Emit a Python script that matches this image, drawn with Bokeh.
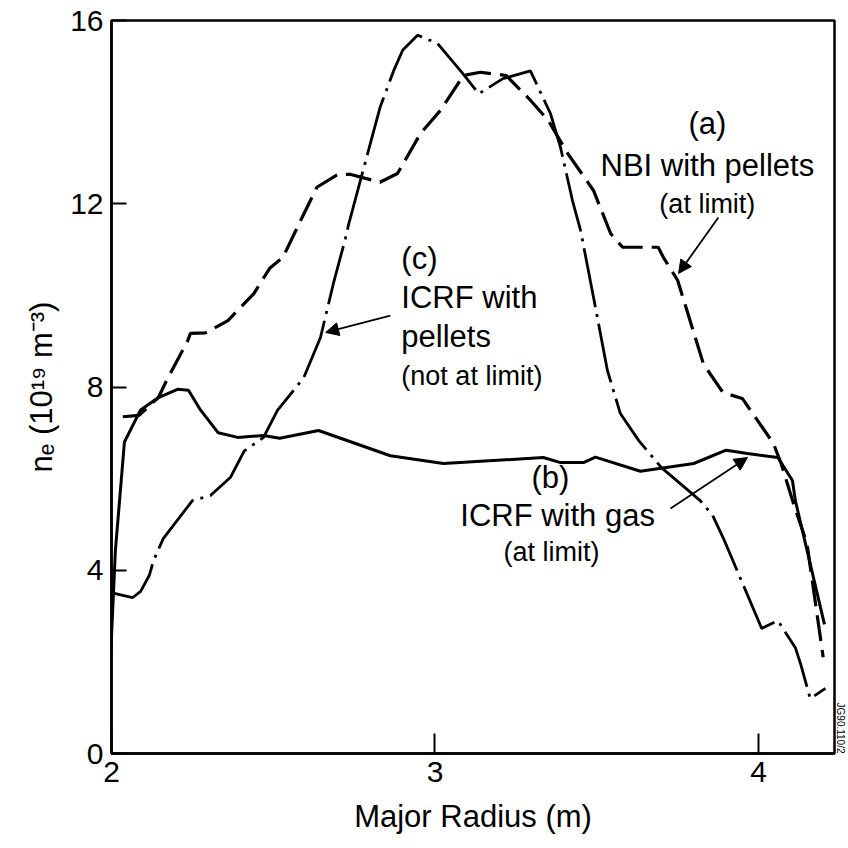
from bokeh.plotting import figure
from bokeh.models import Range1d, Label, Arrow, NormalHead, FixedTicker, Title
from bokeh.embed import file_html
from bokeh.resources import INLINE

FONT = "Liberation Sans"

# (a) NBI with pellets (at limit) - dashed
x_a = [2.035, 2.085, 2.145, 2.17, 2.235, 2.244, 2.29, 2.36, 2.44, 2.49, 2.53, 2.585, 2.635,
       2.70, 2.74, 2.83, 2.884, 2.955, 3.017, 3.088, 3.14, 3.22, 3.295, 3.35, 3.41, 3.49,
       3.543, 3.58, 3.69, 3.706, 3.75, 3.83, 3.89, 3.95, 4.046, 4.07, 4.108, 4.15, 4.20]
y_a = [7.35, 7.38, 7.77, 8.14, 9.0, 9.17, 9.18, 9.45, 10.04, 10.6, 10.83, 11.64, 12.36,
       12.64, 12.64, 12.47, 12.66, 13.53, 14.04, 14.8, 14.87, 14.8, 14.26, 13.82, 13.1, 12.29,
       11.35, 11.05, 11.05, 10.83, 10.33, 8.5, 7.88, 7.75, 6.77, 6.33, 5.46, 4.58, 2.1]

# (b) ICRF with gas (at limit) - solid
x_b = [1.998, 2.012, 2.04, 2.09, 2.145, 2.204, 2.238, 2.275, 2.33, 2.39, 2.47, 2.52, 2.64,
       2.862, 3.026, 3.335, 3.388, 3.459, 3.496, 3.635, 3.80, 3.90, 3.966, 4.06, 4.105,
       4.114, 4.204]
y_b = [2.25, 4.43, 6.8, 7.5, 7.77, 7.95, 7.93, 7.5, 7.0, 6.9, 6.94, 6.88, 7.05,
       6.5, 6.33, 6.46, 6.35, 6.35, 6.47, 6.16, 6.33, 6.62, 6.55, 6.46, 5.96,
       5.52, 2.82]

# (c) ICRF with pellets (not at limit) - dash-dot
x_c = [2.005, 2.065, 2.09, 2.117, 2.13, 2.16, 2.25, 2.306, 2.368, 2.41, 2.47, 2.513, 2.594,
       2.646, 2.686, 2.723, 2.733, 2.83, 2.872, 2.90, 2.946, 3.008, 3.085, 3.135, 3.21,
       3.295, 3.335, 3.357, 3.388, 3.425, 3.45, 3.49, 3.533, 3.573, 3.63, 3.70, 3.82,
       3.858, 3.892, 4.01, 4.06, 4.114, 4.13, 4.16, 4.207]
y_c = [3.5, 3.4, 3.54, 3.89, 4.21, 4.69, 5.52, 5.63, 6.03, 6.6, 6.9, 7.49, 8.2,
       9.08, 10.26, 11.24, 11.55, 14.1, 14.9, 15.35, 15.68, 15.5, 14.85, 14.4, 14.73,
       14.9, 14.3, 13.97, 13.23, 12.07, 11.42, 9.96, 8.36, 7.42, 6.83, 6.24, 5.52,
       5.2, 4.69, 2.73, 2.9, 2.31, 1.96, 1.2, 1.42]

x_ticks = [2, 3, 4]
y_ticks = [0, 4, 8, 12, 16]

p = figure(width=848, height=848, x_range=Range1d(2.0, 4.235), y_range=Range1d(0, 16),
           output_backend="svg", toolbar_location=None,
           min_border_left=111, min_border_right=14, min_border_top=20, min_border_bottom=95)

p.grid.visible = False
p.outline_line_color = "black"
p.outline_line_width = 2.5
p.background_fill_color = "white"
p.border_fill_color = "white"

p.xaxis.ticker = FixedTicker(ticks=x_ticks)
p.yaxis.ticker = FixedTicker(ticks=y_ticks)
for ax in (p.xaxis[0], p.yaxis[0]):
    ax.axis_line_width = 2.5
    ax.axis_line_color = "black"
    ax.major_tick_line_width = 2
    ax.major_tick_out = 0
    ax.minor_tick_line_color = None
    ax.major_label_text_font = FONT
    ax.major_label_text_font_size = "30px"
    ax.major_label_text_color = "black"
    ax.axis_label_text_font = FONT
    ax.axis_label_text_font_size = "31px"
    ax.axis_label_text_font_style = "normal"
    ax.axis_label_text_color = "black"

p.xaxis.major_tick_in = 20
p.yaxis.major_tick_in = 15
p.xaxis.major_label_standoff = 8
p.yaxis.major_label_standoff = 8
p.xaxis.axis_label = "Major Radius (m)"
p.yaxis.axis_label = "nₑ (10¹⁹ m⁻³)"
p.xaxis.axis_label_standoff = 14
p.yaxis.axis_label_standoff = 8

p.line(x_b, y_b, line_color="black", line_width=3)
p.line(x_a, y_a, line_color="black", line_width=3.2, line_dash="26 9")
p.line(x_c, y_c, line_color="black", line_width=2.8, line_dash="60 7 3 7")

def lab(x, y, text, size, align="center"):
    p.add_layout(Label(x=x, y=y, text=text, text_font=FONT, text_font_size=size,
                       text_align=align, text_baseline="middle", text_color="black"))

# (a)
lab(3.842, 13.76, "(a)", "31px")
lab(3.842, 12.84, "NBI with pellets", "31px")
lab(3.842, 11.99, "(at limit)", "27px")
# (c)
lab(2.896, 10.81, "(c)", "31px", "left")
lab(2.896, 9.96, "ICRF with", "31px", "left")
lab(2.896, 9.10, "pellets", "31px", "left")
lab(2.896, 8.23, "(not at limit)", "27px", "left")
# (b)
lab(3.357, 6.03, "(b)", "31px")
lab(3.379, 5.20, "ICRF with gas", "31px")
lab(3.36, 4.39, "(at limit)", "27px")

def arrow(x0, y0, x1, y1):
    p.add_layout(Arrow(end=NormalHead(size=13, fill_color="black", line_color="black"),
                       x_start=x0, y_start=y0, x_end=x1, y_end=y1,
                       line_width=1.8, line_color="black"))

arrow(3.876, 11.70, 3.753, 10.48)
arrow(2.862, 9.56, 2.662, 9.19)
arrow(3.728, 5.35, 3.966, 6.46)

p.add_layout(Title(text="JG90.110/2", text_font=FONT, text_font_size="10px",
                   text_font_style="normal", align="right", standoff=0, offset=0,
                   text_color="black"), "right")

open("out.html", "w").write(file_html(p, INLINE))
